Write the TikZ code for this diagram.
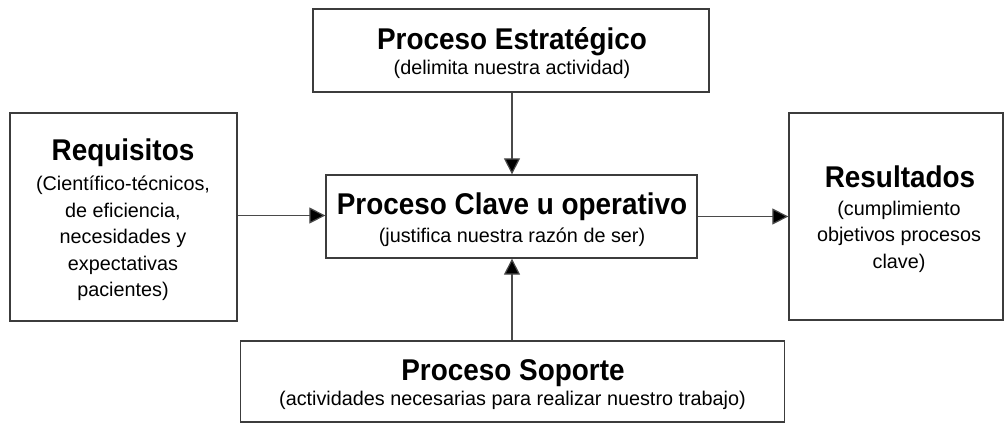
\documentclass[tikz,border=0pt]{standalone}
\usepackage{fontspec}
\usetikzlibrary{arrows.meta}
\newfontfamily\ttlfont[FakeStretch=0.93]{Liberation Sans}
\newfontfamily\subfont{Liberation Sans}
\definecolor{boxline}{HTML}{3C3C3C}
\definecolor{arrline}{HTML}{4A4A4A}
\begin{document}
\begin{tikzpicture}[x=1pt,y=-1pt,
  box/.style={draw=boxline, line width=1.3pt, fill=white, inner sep=0pt, anchor=center},
  ttl/.style={anchor=base, inner sep=0pt, font=\ttlfont\bfseries\fontsize{30}{30}\selectfont},
  sub/.style={anchor=base, inner sep=0pt, align=center, font=\subfont\fontsize{19.8}{26.5}\selectfont},
  arr/.style={draw=arrline, line width=1.2pt, -{Triangle[length=16pt,width=16pt,fill=black]}}
]
\useasboundingbox[fill=white] (0,0) rectangle (1004,424);

% boxes
\node[box, minimum width=396pt, minimum height=83pt]  (est)   at (511,50.5)  {};
\node[box, minimum width=227pt, minimum height=208pt] (req)   at (123.5,217) {};
\node[box, minimum width=371pt, minimum height=83pt]  (clave) at (511.5,216.5) {};
\node[box, minimum width=214pt, minimum height=207pt] (res)   at (896,216.5) {};
\node[box, minimum width=544pt, minimum height=81pt]  (sop)   at (512.5,381.5) {};

% texts
\node[ttl] (estT) at (512,49) {Proceso Estratégico};
\node[sub] (estS) at (512,74) {(delimita nuestra actividad)};

\node[ttl] (claveT) at (512,214) {Proceso Clave u operativo};
\node[sub] (claveS) at (512,242) {(justifica nuestra razón de ser)};

\node[ttl] (sopT) at (513,380) {Proceso Soporte};
\node[sub] (sopS) at (512.5,405) {(actividades necesarias para realizar nuestro trabajo)};

\node[ttl] (reqT) at (123,160) {Requisitos};
\node[sub] (reqS) at (123,296.5) {(Científico-técnicos,\\de eficiencia,\\necesidades y\\expectativas\\pacientes)};

\node[ttl] (resT) at (900,187) {Resultados};
\node[sub] (resS) at (899,268) {(cumplimiento\\objetivos procesos\\clave)};

% connectors
\draw[arr] (est.south -| clave.north) ++(0.5,0) coordinate (a1) (a1) -- (a1 |- clave.north);
\draw[arr] (sop.north) ++(-0.5,0) coordinate (a2) (a2) -- (a2 |- clave.south);
\draw[arr] (req.east |- 0,215.5) -- (clave.west |- 0,215.5);
\draw[arr] (clave.east) -- (res.west);
\end{tikzpicture}
\end{document}
